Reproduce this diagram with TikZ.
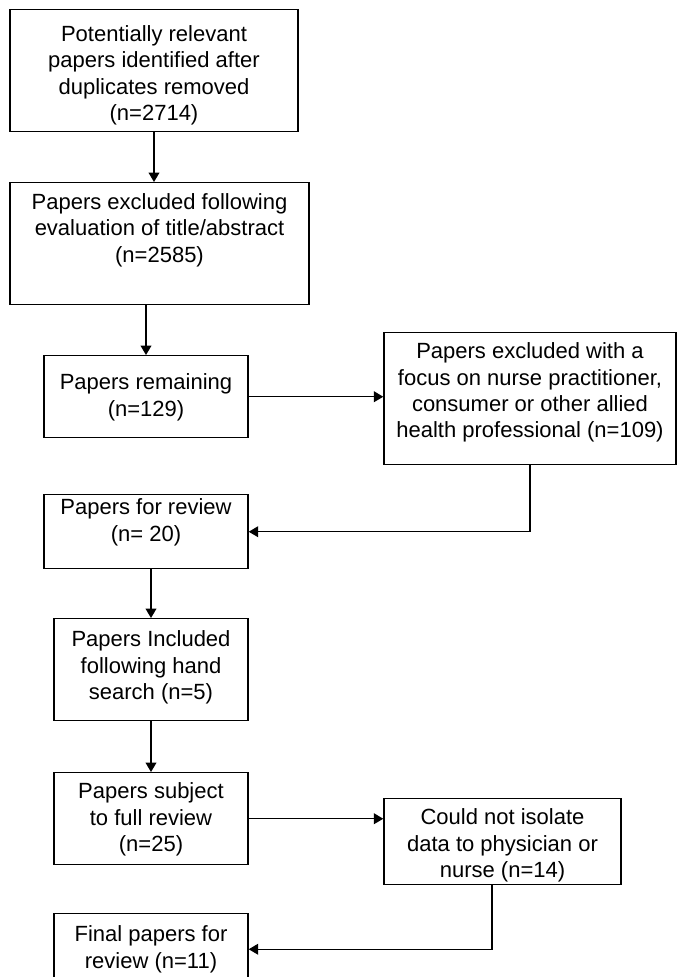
\documentclass[tikz,border=0pt]{standalone}
\usepackage{fontspec}
\setmainfont{Liberation Sans}
\usetikzlibrary{arrows.meta}
\def\boxlines#1{\begin{tabular}[t]{@{}c@{}}#1\end{tabular}}
\tikzset{
    box/.style={draw, line width=1.1pt, inner sep=0pt, anchor=north,
        font=\fontsize{16.5}{19.7}\selectfont},
    flow/.style={line width=1.1pt, -{Triangle[length=7pt,width=8pt]}}
}

\begin{document}
\begin{tikzpicture}[x=0.75pt, y=-0.75pt]
        \useasboundingbox (0,0) rectangle (677,977);
        \fill[white] (0,0) rectangle (677,977);
        \clip (0,0) rectangle (677,977);
        \node[box, minimum width=216pt, text height=24pt, text depth=67.5pt] (found) at (154,9)
            {\boxlines{Potentially relevant\\papers identified after\\duplicates removed\\(n=2714)}};
        \node[box, minimum width=224.25pt, text height=20.25pt, text depth=71.25pt] (excl) at (159.5,182)
            {\boxlines{Papers excluded following\\evaluation of title/abstract\\(n=2585)}};
        \node[box, minimum width=153pt, text height=25.5pt, text depth=36pt] (remain) at (146,355)
            {\boxlines{Papers remaining\\(n=129)}};
        \node[box, minimum width=219pt, text height=19.5pt, text depth=79.5pt] (nurse) at (530,332)
            {\boxlines{Papers excluded with a\\focus on nurse practitioner,\\consumer or other allied\\health professional (n=109)}};
        \node[box, minimum width=153pt, text height=15pt, text depth=40.5pt] (review) at (146,494)
            {\boxlines{Papers for review\\(n= 20)}};
        \node[box, minimum width=145.5pt, text height=21pt, text depth=55.5pt] (hand) at (151,618)
            {\boxlines{Papers Included\\following hand\\search (n=5)}};
        \node[box, minimum width=145.5pt, text height=19.5pt, text depth=49.5pt] (full) at (151,772)
            {\boxlines{Papers subject\\to full review\\(n=25)}};
        \node[box, minimum width=177.75pt, text height=19.5pt, text depth=45pt] (isolate) at (502.5,798)
            {\boxlines{Could not isolate\\data to physician or\\nurse (n=14)}};
        % last box runs off the bottom edge
        \node[box, minimum width=145.5pt, text height=21pt, text depth=32.25pt] (final) at (151,913)
            {\boxlines{Final papers for\\review (n=11)}};

        \draw[flow] (found.south) -- (found.south |- excl.north);
        \draw[flow] (remain.north |- excl.south) -- (remain.north);
        \draw[flow] (remain.east) -- (remain.east -| nurse.west);
        \draw[flow] (nurse.south) |- (review.east);
        \draw[flow] (hand.north |- review.south) -- (hand.north);
        \draw[flow] (full.north |- hand.south) -- (full.north);
        \draw[flow] (full.east) -- (full.east -| isolate.west);
        \draw[flow] ([xshift=-8pt]isolate.south) |- (final.east);
\end{tikzpicture}
\end{document}
